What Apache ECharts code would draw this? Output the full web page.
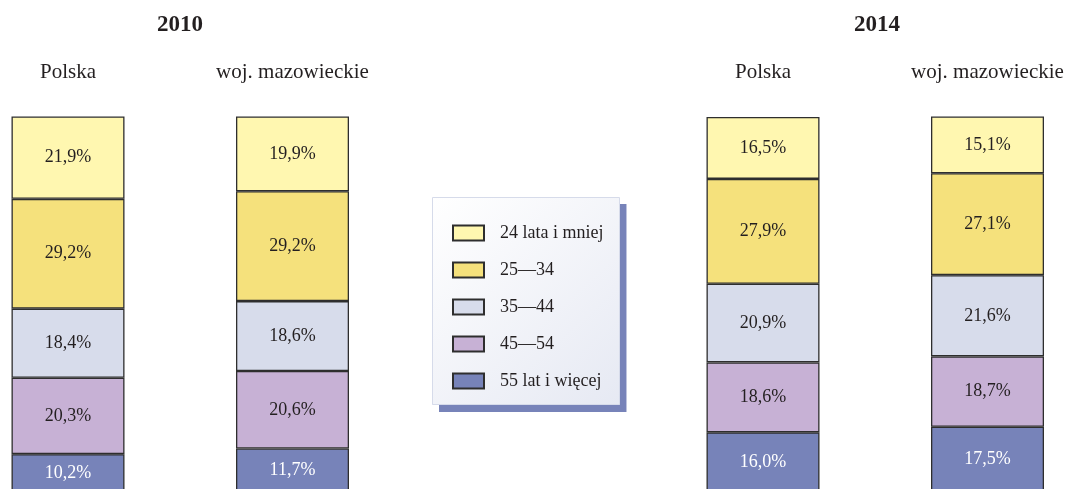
<!DOCTYPE html>
<html><head><meta charset="utf-8">
<script src="https://cdn.jsdelivr.net/npm/echarts@6/dist/echarts.min.js"></script>
<style>html,body{margin:0;padding:0;background:#fff}#c{width:1068px;height:489px}</style>
</head><body><div id="c"></div>
<script>
const years = ['2010', '2014'];
const columns = ['Polska', 'woj. mazowieckie', 'Polska', 'woj. mazowieckie'];
const groups = ['24 lata i mniej', '25—34', '35—44', '45—54', '55 lat i więcej'];
const g24 = [21.9, 19.9, 16.5, 15.1];
const g25 = [29.2, 29.2, 27.9, 27.1];
const g35 = [18.4, 18.6, 20.9, 21.6];
const g45 = [20.3, 20.6, 18.6, 18.7];
const g55 = [10.2, 11.7, 16.0, 17.5];

const values = [g24, g25, g35, g45, g55];
const colors = ['#FFF7B0', '#F5E17C', '#D7DCEB', '#C7B1D5', '#7783B9'];
const labelColors = ['#231F20', '#231F20', '#231F20', '#231F20', '#FFFFFF'];
const FONT = "'Liberation Serif', 'Times New Roman', serif";

const gridLefts = [11.5, 236, 706.5, 931];
const grids = gridLefts.map(l => ({left: l, width: 113, top: 116.5, height: 376, outerBoundsMode: 'none', containLabel: false}));
const xAxes = columns.map((c, i) => ({
  type: 'category', gridIndex: i, data: [c], position: 'top',
  axisLine: {show: false}, axisTick: {show: false},
  axisLabel: {margin: 34, fontSize: 21, fontFamily: FONT, color: '#231F20'}
}));
const yAxes = columns.map((c, i) => ({type: 'value', gridIndex: i, min: 0, max: 100, show: false}));

const series = [];
columns.forEach((c, ci) => {
  for (let gi = groups.length - 1; gi >= 0; gi--) {
    series.push({
      type: 'bar', name: groups[gi], stack: 's' + ci,
      xAxisIndex: ci, yAxisIndex: ci, barWidth: '100%', clip: false,
      data: [values[gi][ci]],
      itemStyle: {color: colors[gi], borderColor: '#2E2E2E', borderWidth: 1.3},
      label: {show: true, position: 'inside', fontSize: 18, fontFamily: FONT, color: labelColors[gi],
        formatter: p => p.value.toFixed(1).replace('.', ',') + '%'},
      emphasis: {disabled: true}, animation: false
    });
  }
});

const chart = echarts.init(document.getElementById('c'), null, {renderer: 'canvas'});
chart.setOption({
  animation: false,
  grid: grids, xAxis: xAxes, yAxis: yAxes, series: series,
  legend: {
    data: groups, orient: 'vertical', left: 432, top: 197,
    padding: [27, 16, 15, 20], itemGap: 19, itemWidth: 31, itemHeight: 15,
    icon: 'rect', selectedMode: false,
    textStyle: {fontSize: 18, fontFamily: FONT, color: '#231F20', padding: [0, 0, 0, 11]},
    backgroundColor: {type: 'linear', x: 0, y: 0, x2: 1, y2: 1,
      colorStops: [{offset: 0, color: '#FFFFFF'}, {offset: 1, color: '#E6E9F3'}]},
    borderWidth: 0,
    shadowColor: '#7783B9', shadowBlur: 0, shadowOffsetX: 7, shadowOffsetY: 7
  },
  graphic: [
    {type: 'text', x: 180, y: 25, style: {text: years[0], textAlign: 'center', textVerticalAlign: 'middle',
      font: "bold 23px " + FONT, fill: '#231F20'}},
    {type: 'text', x: 877, y: 25, style: {text: years[1], textAlign: 'center', textVerticalAlign: 'middle',
      font: "bold 23px " + FONT, fill: '#231F20'}},
    {type: 'rect', z: 100, silent: true, shape: {x: 432.5, y: 197.5, width: 187, height: 207},
      style: {fill: 'none', stroke: '#D6DBEA', lineWidth: 1}}
  ]
});
</script></body></html>
